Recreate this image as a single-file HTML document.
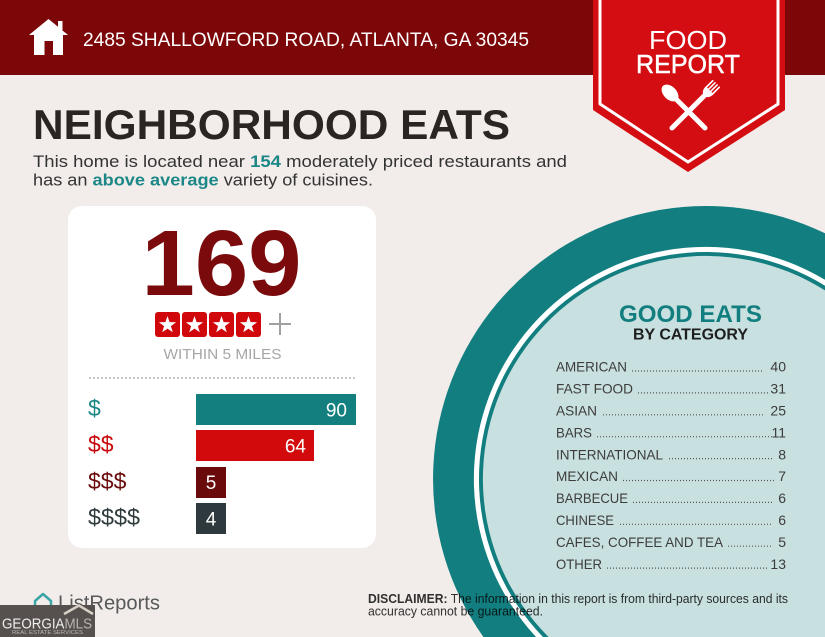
<!DOCTYPE html>
<html>
<head>
<meta charset="utf-8">
<style>
  html,body{margin:0;padding:0;width:825px;height:637px;overflow:hidden;}
  body{background:#f2edea;font-family:"Liberation Sans",Arial,sans-serif;position:relative;}
  svg{display:block;position:absolute;left:0;top:0;}
  text{font-family:"Liberation Sans",Arial,sans-serif;}
</style>
</head>
<body>
<svg width="825" height="637" viewBox="0 0 825 637" xmlns="http://www.w3.org/2000/svg" overflow="hidden">
  <rect x="0" y="0" width="825" height="637" fill="#f2edea"/>

  <rect x="0" y="0" width="825" height="75" fill="#7c0709"/>

  <polygon points="29,35 48.5,19 68,35 63,35 63,55 34,55 34,35" fill="#ffffff"/>
  <rect x="58" y="21" width="4.5" height="9" fill="#ffffff"/>
  <rect x="44.5" y="41" width="8.5" height="14" fill="#7c0709"/>

  <text x="83" y="46" font-size="19" fill="#ffffff" textLength="446" lengthAdjust="spacingAndGlyphs">2485 SHALLOWFORD ROAD, ATLANTA, GA 30345</text>

  <polygon points="593,0 785,0 785,110 688,172 593,110" fill="#d40d12"/>
  <polyline points="600,0 600,104 688,162 778,104 778,0" fill="none" stroke="#ffffff" stroke-width="3"/>
  <text x="688" y="49" font-size="26" fill="#ffffff" text-anchor="middle" textLength="78" lengthAdjust="spacingAndGlyphs">FOOD</text>
  <text x="688" y="73" font-size="26" fill="#ffffff" stroke="#ffffff" stroke-width="0.5" text-anchor="middle" textLength="104" lengthAdjust="spacingAndGlyphs">REPORT</text>
  <g stroke="#ffffff" stroke-linecap="round" fill="none">
    <line x1="676" y1="99" x2="705" y2="128" stroke-width="5"/>
    <line x1="704" y1="96" x2="672" y2="128" stroke-width="5"/>
  </g>
  <ellipse cx="670" cy="93" rx="6.5" ry="10" transform="rotate(-45 670 93)" fill="#ffffff"/>
  <g transform="translate(709,91) rotate(45)">
    <path d="M-5.5,-1 L5.5,-1 Q5.5,6 0,7 Q-5.5,6 -5.5,-1 Z" fill="#ffffff"/>
    <g stroke="#ffffff" stroke-width="1.6" stroke-linecap="round">
      <line x1="-4.6" y1="0" x2="-4.6" y2="-10"/>
      <line x1="-1.5" y1="0" x2="-1.5" y2="-10"/>
      <line x1="1.5" y1="0" x2="1.5" y2="-10"/>
      <line x1="4.6" y1="0" x2="4.6" y2="-10"/>
    </g>
  </g>

  <text x="33" y="139" font-size="42" font-weight="bold" fill="#2a2422" textLength="477" lengthAdjust="spacingAndGlyphs">NEIGHBORHOOD EATS</text>

  <text x="33" y="167" font-size="17" fill="#333333" textLength="534" lengthAdjust="spacingAndGlyphs">This home is located near <tspan fill="#1b8787" font-weight="bold">154</tspan> moderately priced restaurants and</text>
  <text x="33" y="185.5" font-size="17" fill="#333333" textLength="340" lengthAdjust="spacingAndGlyphs">has an <tspan fill="#1b8787" font-weight="bold">above average</tspan> variety of cuisines.</text>

  <!-- big circle, clipped to frame as paths -->
  <path d="M483.4,637 A273,273 0 0 1 825,233.3 L825,637 Z" fill="#137e80"/>
  <path d="M536.1,637 A232,232 0 0 1 825,279.8 L825,637 Z" fill="#ffffff"/>
  <path d="M543.0,637 A227,227 0 0 1 825,285.7 L825,637 Z" fill="#137e80"/>
  <path d="M548.6,637 A223,223 0 0 1 825,290.4 L825,637 Z" fill="#c8e0df"/>

  <rect x="68" y="206" width="308" height="342" rx="14" ry="14" fill="#ffffff"/>

  <text x="221.5" y="295" font-size="93" font-weight="bold" fill="#7a0a0c" text-anchor="middle" textLength="160" lengthAdjust="spacingAndGlyphs">169</text>

  <g>
    <rect x="155" y="312" width="25" height="25" rx="3" fill="#d0080c"/>
    <rect x="182" y="312" width="25" height="25" rx="3" fill="#d0080c"/>
    <rect x="209" y="312" width="25" height="25" rx="3" fill="#d0080c"/>
    <rect x="236" y="312" width="25" height="25" rx="3" fill="#d0080c"/>
    <g fill="#ffffff">
      <path transform="translate(167.5,325)" d="M0,-9 L2.1,-2.9 L8.6,-2.8 L3.4,1.1 L5.3,7.3 L0,3.6 L-5.3,7.3 L-3.4,1.1 L-8.6,-2.8 L-2.1,-2.9 Z"/>
      <path transform="translate(194.5,325)" d="M0,-9 L2.1,-2.9 L8.6,-2.8 L3.4,1.1 L5.3,7.3 L0,3.6 L-5.3,7.3 L-3.4,1.1 L-8.6,-2.8 L-2.1,-2.9 Z"/>
      <path transform="translate(221.5,325)" d="M0,-9 L2.1,-2.9 L8.6,-2.8 L3.4,1.1 L5.3,7.3 L0,3.6 L-5.3,7.3 L-3.4,1.1 L-8.6,-2.8 L-2.1,-2.9 Z"/>
      <path transform="translate(248.5,325)" d="M0,-9 L2.1,-2.9 L8.6,-2.8 L3.4,1.1 L5.3,7.3 L0,3.6 L-5.3,7.3 L-3.4,1.1 L-8.6,-2.8 L-2.1,-2.9 Z"/>
    </g>
    <g stroke="#a0a0a0" stroke-width="2">
      <line x1="269" y1="324" x2="291" y2="324"/>
      <line x1="280" y1="313" x2="280" y2="335"/>
    </g>
  </g>

  <text x="222.5" y="359" font-size="15" fill="#a6a6a6" text-anchor="middle" textLength="118" lengthAdjust="spacingAndGlyphs">WITHIN 5 MILES</text>

  <line x1="89" y1="378" x2="356" y2="378" stroke="#b5b5b5" stroke-width="1.5" stroke-dasharray="2 2"/>

  <text x="88" y="416" font-size="23" fill="#1b8787">$</text>
  <text x="88" y="452" font-size="23" fill="#c8080d">$$</text>
  <text x="88" y="489" font-size="23" fill="#6a0a0a">$$$</text>
  <text x="88" y="525" font-size="23" fill="#2f3b3d" textLength="52" lengthAdjust="spacingAndGlyphs">$$$$</text>

  <rect x="196" y="394" width="160" height="31" fill="#13807f"/>
  <rect x="196" y="430" width="118" height="31" fill="#d20a0c"/>
  <rect x="196" y="467" width="30" height="31" fill="#6b0a0a"/>
  <rect x="196" y="503" width="30" height="31" fill="#2d393c"/>

  <text x="347" y="416.5" font-size="19" fill="#ffffff" text-anchor="end">90</text>
  <text x="306" y="452.5" font-size="19" fill="#ffffff" text-anchor="end">64</text>
  <text x="211" y="489" font-size="19" fill="#ffffff" text-anchor="middle">5</text>
  <text x="211" y="525.5" font-size="19" fill="#ffffff" text-anchor="middle">4</text>

  <text x="690.5" y="322" font-size="24" font-weight="bold" fill="#137e80" text-anchor="middle" textLength="143" lengthAdjust="spacingAndGlyphs">GOOD EATS</text>
  <text x="690.5" y="339.5" font-size="16" font-weight="bold" fill="#1e1e1e" text-anchor="middle" textLength="115" lengthAdjust="spacingAndGlyphs">BY CATEGORY</text>

  <g font-size="14" fill="#3c3c3c">
    <text x="556" y="371.7" textLength="71" lengthAdjust="spacingAndGlyphs">AMERICAN</text>
    <text x="786" y="371.7" text-anchor="end">40</text>
    <text x="556" y="393.6" textLength="77" lengthAdjust="spacingAndGlyphs">FAST FOOD</text>
    <text x="786" y="393.6" text-anchor="end">31</text>
    <text x="556" y="415.5" textLength="41" lengthAdjust="spacingAndGlyphs">ASIAN</text>
    <text x="786" y="415.5" text-anchor="end">25</text>
    <text x="556" y="437.4" textLength="36" lengthAdjust="spacingAndGlyphs">BARS</text>
    <text x="786" y="437.4" text-anchor="end">11</text>
    <text x="556" y="459.3" textLength="107" lengthAdjust="spacingAndGlyphs">INTERNATIONAL</text>
    <text x="786" y="459.3" text-anchor="end">8</text>
    <text x="556" y="481.2" textLength="62" lengthAdjust="spacingAndGlyphs">MEXICAN</text>
    <text x="786" y="481.2" text-anchor="end">7</text>
    <text x="556" y="503.1" textLength="72" lengthAdjust="spacingAndGlyphs">BARBECUE</text>
    <text x="786" y="503.1" text-anchor="end">6</text>
    <text x="556" y="525" textLength="58" lengthAdjust="spacingAndGlyphs">CHINESE</text>
    <text x="786" y="525" text-anchor="end">6</text>
    <text x="556" y="546.9" textLength="167" lengthAdjust="spacingAndGlyphs">CAFES, COFFEE AND TEA</text>
    <text x="786" y="546.9" text-anchor="end">5</text>
    <text x="556" y="568.8" textLength="46" lengthAdjust="spacingAndGlyphs">OTHER</text>
    <text x="786" y="568.8" text-anchor="end">13</text>
  </g>
  <g stroke="#555555" stroke-width="1.2" stroke-dasharray="1 2">
    <line x1="632" y1="371" x2="764" y2="371"/>
    <line x1="638" y1="392.9" x2="769" y2="392.9"/>
    <line x1="603" y1="414.8" x2="764" y2="414.8"/>
    <line x1="597" y1="436.7" x2="773" y2="436.7"/>
    <line x1="669" y1="458.6" x2="774" y2="458.6"/>
    <line x1="623" y1="480.5" x2="775" y2="480.5"/>
    <line x1="633" y1="502.4" x2="773" y2="502.4"/>
    <line x1="620" y1="524.3" x2="773" y2="524.3"/>
    <line x1="728" y1="546.2" x2="773" y2="546.2"/>
    <line x1="607" y1="568.1" x2="768" y2="568.1"/>
  </g>

  <g style="mix-blend-mode:multiply" fill="#333333" font-size="12.5">
    <text x="368" y="603" textLength="420" lengthAdjust="spacingAndGlyphs"><tspan font-weight="bold">DISCLAIMER:</tspan> The information in this report is from third-party sources and its</text>
    <text x="368" y="615.5" textLength="175" lengthAdjust="spacingAndGlyphs">accuracy cannot be guaranteed.</text>
  </g>

  <path d="M35,601 L43,594 L51,601 L51,610 Q51,612 49,612 L37,612 Q35,612 35,610 Z" fill="none" stroke="#3aa5a5" stroke-width="2.5" stroke-linejoin="round"/>
  <text x="58" y="609.5" font-size="20.5" fill="#58595b" textLength="102" lengthAdjust="spacingAndGlyphs">ListReports</text>

  <rect x="0" y="605" width="95" height="32" fill="#56514e"/>
  <polyline points="64,614 79,605.5 93,614" fill="none" stroke="#d8cfc6" stroke-width="2.5"/>
  <text x="2" y="628.5" font-size="15" fill="#f0f0f0" textLength="90" lengthAdjust="spacingAndGlyphs">GEORGIA<tspan fill="#b8b4b0">MLS</tspan></text>
  <text x="12" y="634" font-size="5" fill="#bdb8b4" textLength="71" lengthAdjust="spacingAndGlyphs">REAL ESTATE SERVICES</text>
</svg>
</body>
</html>
